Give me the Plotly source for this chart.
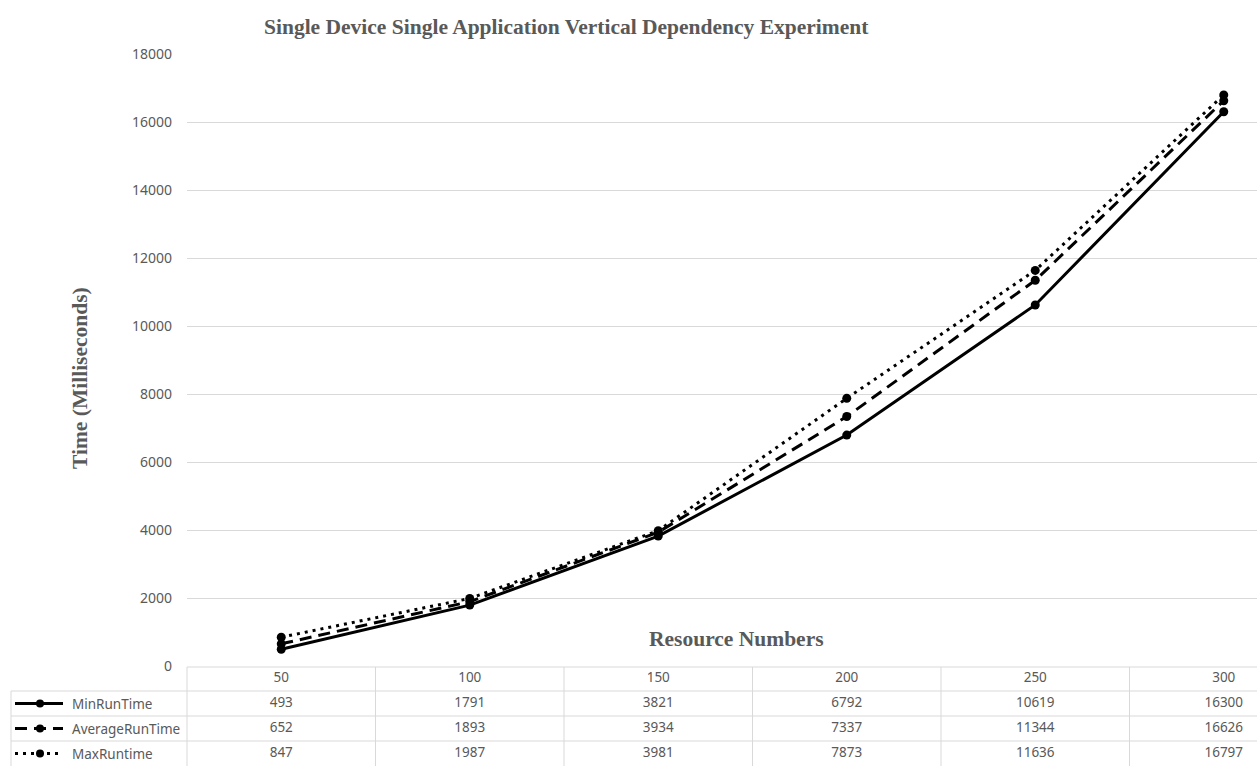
import plotly.graph_objects as go

# Resource counts (x categories) and measured run times in milliseconds
resource_numbers = ["50", "100", "150", "200", "250", "300"]
min_run_time = [493, 1791, 3821, 6792, 10619, 16300]
average_run_time = [652, 1893, 3934, 7337, 11344, 16626]
max_run_time = [847, 1987, 3981, 7873, 11636, 16797]

series_names = ["MinRunTime", "AverageRunTime", "MaxRuntime"]
series_values = [min_run_time, average_run_time, max_run_time]
series_dash = ["solid", "12px,7px", "3px,5px"]

W, H = 1257, 766
ML, MR, MT, MB = 187, 0, 54, 0
PW, PH = W - ML - MR, H - MT - MB
TABLE_H = 100          # data table strip under the chart
CHART_BOTTOM = H - TABLE_H

GREY_TEXT = "#595959"
GRID = "#d9d9d9"
TICK_FONT = dict(family="Noto Sans, Open Sans, sans-serif", size=13.5, color=GREY_TEXT)
AXIS_FONT = dict(family="Noto Sans, Open Sans, sans-serif", size=14, color=GREY_TEXT)
SERIF_BOLD = dict(family="Liberation Serif, Times New Roman, serif", size=21.5, color=GREY_TEXT)


def px_to_paper_x(px):
    return (px - ML) / PW


def px_to_paper_y(py):
    return (H - MB - py) / PH


fig = go.Figure()

# Run-time series
for name, vals, dash in zip(series_names, series_values, series_dash):
    fig.add_trace(go.Scatter(
        x=resource_numbers, y=vals, name=name, mode="lines+markers",
        line=dict(color="black", width=3, dash=dash),
        marker=dict(color="black", size=9, symbol="circle"),
        showlegend=False, cliponaxis=False, xaxis="x", yaxis="y",
    ))

# Data table: header row of resource numbers, then one row per series
fig.add_trace(go.Scatter(
    x=resource_numbers, y=[0.5] * len(resource_numbers), text=resource_numbers,
    mode="text", textfont=TICK_FONT, textposition="middle center",
    showlegend=False, hoverinfo="skip", xaxis="x", yaxis="y2",
))
for r, vals in enumerate(series_values):
    fig.add_trace(go.Scatter(
        x=resource_numbers, y=[r + 1.5] * len(vals), text=[str(v) for v in vals],
        mode="text", textfont=TICK_FONT, textposition="middle center",
        showlegend=False, hoverinfo="skip", xaxis="x", yaxis="y2",
    ))

shapes = []
annotations = []

header_top = CHART_BOTTOM + 1
row_tops = [691, 716, 741]
label_left = 11

line_style = dict(color=GRID, width=1)
for yt in row_tops:
    shapes.append(dict(type="line", xref="paper", yref="paper",
                       x0=px_to_paper_x(label_left), x1=1,
                       y0=px_to_paper_y(yt), y1=px_to_paper_y(yt),
                       line=line_style, layer="above"))
shapes.append(dict(type="line", xref="paper", yref="paper", x0=0, x1=1,
                   y0=px_to_paper_y(header_top), y1=px_to_paper_y(header_top),
                   line=line_style, layer="above"))
shapes.append(dict(type="line", xref="paper", yref="paper", x0=0, x1=0,
                   y0=px_to_paper_y(header_top), y1=0,
                   line=line_style, layer="above"))
for i in range(1, len(resource_numbers)):
    shapes.append(dict(type="line", xref="x", yref="paper", x0=i - 0.5, x1=i - 0.5,
                       y0=px_to_paper_y(header_top), y1=0,
                       line=line_style, layer="above"))
shapes.append(dict(type="line", xref="paper", yref="paper",
                   x0=px_to_paper_x(label_left), x1=px_to_paper_x(label_left),
                   y0=px_to_paper_y(row_tops[0]), y1=0,
                   line=line_style, layer="above"))

# Legend keys and series names in the table's first column
for name, dash, yt in zip(series_names, series_dash, row_tops):
    yc = px_to_paper_y(yt + 12.5)
    shapes.append(dict(type="line", xref="paper", yref="paper",
                       x0=px_to_paper_x(15), x1=px_to_paper_x(63), y0=yc, y1=yc,
                       line=dict(color="black", width=3, dash=dash), layer="above"))
    shapes.append(dict(type="circle", xref="paper", yref="paper",
                       x0=px_to_paper_x(36), x1=px_to_paper_x(44),
                       y0=px_to_paper_y(yt + 16.5), y1=px_to_paper_y(yt + 8.5),
                       fillcolor="black", line=dict(color="black", width=0), layer="above"))
    annotations.append(dict(x=px_to_paper_x(70), xref="paper", y=yc, yref="paper", text=name,
                            showarrow=False, font=TICK_FONT, xanchor="left", yanchor="middle"))

# Titles
annotations.append(dict(x=px_to_paper_x(566), xref="paper", y=px_to_paper_y(27), yref="paper",
                        text="<b>Single Device Single Application Vertical Dependency Experiment</b>",
                        showarrow=False, font=SERIF_BOLD, xanchor="center", yanchor="middle"))
annotations.append(dict(x=px_to_paper_x(736), xref="paper", y=px_to_paper_y(639), yref="paper",
                        text="<b>Resource Numbers</b>",
                        showarrow=False, font=SERIF_BOLD, xanchor="center", yanchor="middle"))
annotations.append(dict(x=px_to_paper_x(80), xref="paper", y=px_to_paper_y(378), yref="paper",
                        text="<b>Time (Milliseconds)</b>", textangle=-90,
                        showarrow=False, font=SERIF_BOLD, xanchor="center", yanchor="middle"))

table_frac = TABLE_H / PH

fig.update_layout(
    width=W, height=H,
    margin=dict(l=ML, r=MR, t=MT, b=MB, pad=0, autoexpand=False),
    plot_bgcolor="white", paper_bgcolor="white",
    shapes=shapes, annotations=annotations,
    xaxis=dict(type="category", categoryorder="array", categoryarray=resource_numbers,
               range=[-0.5, -0.5 + PW / 188.5], showticklabels=False, showgrid=False,
               zeroline=False, showline=False, ticks="", anchor="y", automargin=False),
    yaxis=dict(domain=[table_frac, 1], range=[0, 18000], tickvals=list(range(0, 18001, 2000)),
               tickformat="d", showgrid=True, gridcolor=GRID, gridwidth=1, zeroline=False,
               showline=False, ticks="", tickfont=AXIS_FONT, ticklabelstandoff=14,
               automargin=False),
    yaxis2=dict(domain=[0, table_frac], range=[4, 0], showticklabels=False, showgrid=False,
                zeroline=False, showline=False, ticks="", automargin=False),
)

fig.write_html("out.html")
